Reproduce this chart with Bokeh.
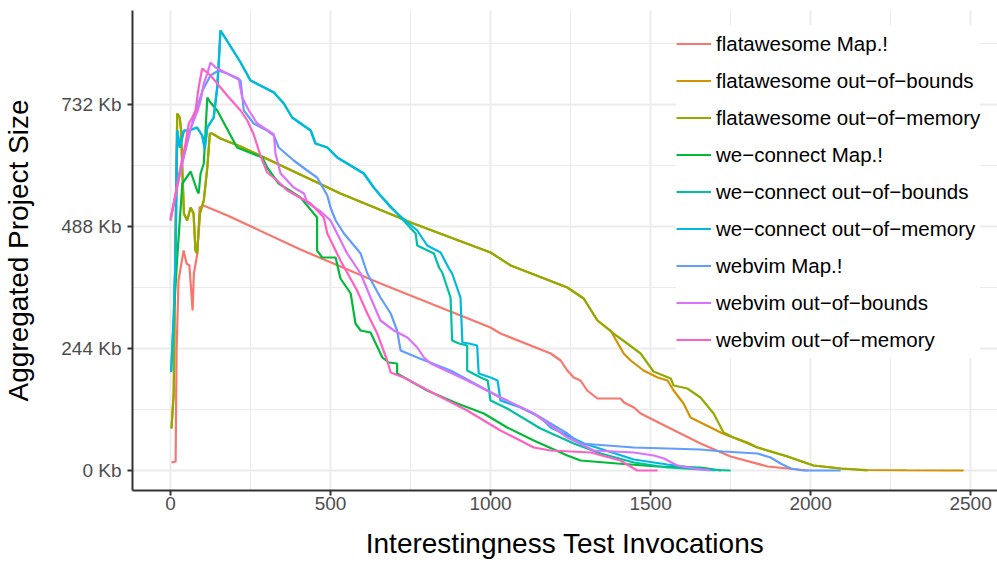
from bokeh.plotting import figure
from bokeh.models import FixedTicker, Range1d
from bokeh.embed import file_html
from bokeh.resources import INLINE

# ---------------- data ----------------
x_ticks = [0, 500, 1000, 1500, 2000, 2500]
x_minor = [250, 750, 1250, 1750, 2250]
y_ticks = [0, 244, 488, 732]
y_minor = [122, 366, 610, 854]
y_tick_labels = ["0 Kb", "244 Kb", "488 Kb", "732 Kb"]
x_title = "Interestingness Test Invocations"
y_title = "Aggregated Project Size"

series_names = [
    "flatawesome Map.!",
    "flatawesome out\u2212of\u2212bounds",
    "flatawesome out\u2212of\u2212memory",
    "we\u2212connect Map.!",
    "we\u2212connect out\u2212of\u2212bounds",
    "we\u2212connect out\u2212of\u2212memory",
    "webvim Map.!",
    "webvim out\u2212of\u2212bounds",
    "webvim out\u2212of\u2212memory",
]
colors = ["#F8766D", "#D39200", "#93AA00", "#00BA38", "#00C19F",
          "#00B9E3", "#619CFF", "#DB72FB", "#FF61C3"]

flat_map_x = [3, 16, 19, 25, 41, 50, 59, 69, 73, 84, 91, 103, 178, 406, 656, 750, 1000, 1031,
              1188, 1219, 1240, 1260, 1281, 1302, 1334, 1406, 1417, 1448, 1469, 1531, 1656,
              1750, 1866, 1991]
flat_map_y = [16, 18, 240, 380, 440, 414, 410, 320, 394, 434, 526, 530, 510, 442, 374, 350, 286, 274,
              234, 220, 200, 186, 180, 160, 144, 144, 136, 126, 114, 94, 54,
              28, 8, 0]

flat_oom_x = [3, 10, 17, 21, 29, 33, 37, 42, 52, 63, 72, 78, 83, 92, 104, 115, 123, 130, 156, 219,
              531, 759, 1000, 1063, 1240, 1291, 1334, 1384, 1427, 1469, 1509, 1563, 1572, 1615,
              1656, 1697, 1728, 1759, 1834, 1928, 2009, 2094, 2178]
flat_oom_y = [84, 154, 540, 714, 706, 680, 600, 514, 500, 526, 514, 440, 434, 514, 540, 606, 674, 674, 664, 648,
              554, 494, 436, 410, 366, 344, 300, 274, 254, 234, 198, 184, 170, 164,
              146, 114, 76, 66, 46, 28, 10, 4, 0]

flat_oob_x = [3, 10, 17, 21, 29, 33, 37, 42, 52, 63, 72, 78, 83, 92, 104, 115, 123, 130, 156, 219,
              531, 759, 1000, 1063, 1240, 1291, 1334, 1375, 1416, 1438, 1478, 1522, 1553, 1572,
              1603, 1625, 1656, 1719, 1741, 1803, 1834, 1928, 2009, 2094, 2178, 2300, 2478]
flat_oob_y = [84, 154, 540, 714, 706, 680, 600, 514, 500, 526, 514, 440, 434, 514, 540, 606, 674, 674, 664, 648,
              554, 494, 436, 410, 366, 344, 300, 280, 234, 220, 200, 186, 180, 160,
              134, 106, 96, 76, 70, 56, 46, 28, 10, 4, 1, 0.5, 0]

wc_map_x = [12, 21, 37, 63, 83, 88, 94, 104, 115, 125, 146, 208, 287, 302, 338, 406, 427, 458, 458,
            474, 516, 531, 563, 578, 594, 625, 662, 682, 708, 708, 802, 896, 979, 1052, 1135, 1240,
            1281, 1396, 1521, 1656, 1720]
wc_map_y = [330, 426, 574, 598, 560, 554, 594, 614, 746, 736, 720, 646, 626, 606, 574, 546, 530, 506, 440,
            426, 426, 384, 354, 294, 280, 276, 226, 216, 214, 194, 160, 134, 114, 86, 60, 30,
            20, 14, 8, 6, 0]

wc_oom_x = [2, 10, 16, 21, 29, 42, 57, 83, 99, 107, 115, 135, 146, 152, 156, 182, 219, 250, 323, 354,
            380, 438, 453, 490, 521, 604, 635, 656, 688, 734, 771, 802, 844, 870, 880, 906, 912,
            932, 958, 963, 1000, 1022, 1031, 1094, 1156, 1188, 1292, 1448, 1552, 1656, 1700]
wc_oom_y = [197, 307, 440, 680, 646, 680, 680, 686, 670, 644, 686, 706, 766, 830, 880, 854, 816, 780, 756, 734,
            706, 680, 654, 646, 626, 594, 566, 550, 526, 500, 480, 450, 436, 404, 394, 346, 256,
            254, 250, 194, 186, 180, 140, 126, 106, 86, 54, 22, 12, 4, 0]

wc_oob_x = [2, 10, 16, 21, 29, 42, 57, 83, 99, 107, 115, 135, 146, 152, 156, 182, 219, 250, 323, 354,
            380, 438, 453, 490, 521, 604, 635, 656, 688, 719, 766, 771, 823, 839, 849, 875, 880,
            901, 927, 927, 969, 991, 1000, 1052, 1156, 1260, 1344, 1448, 1552, 1656, 1750]
wc_oob_y = [197, 307, 440, 680, 646, 680, 680, 686, 670, 644, 686, 706, 766, 830, 880, 854, 816, 780, 756, 734,
            706, 680, 654, 646, 626, 594, 566, 550, 528, 506, 474, 450, 434, 406, 396, 346, 260,
            254, 250, 200, 186, 180, 140, 124, 84, 54, 34, 16, 6, 2, 0]

wv_map_x = [0, 35, 70, 100, 125, 150, 177, 219, 229, 260, 302, 323, 338, 385, 427, 458, 490, 500, 516,
            542, 594, 615, 656, 688, 708, 719, 771, 875, 1031, 1135, 1240, 1281, 1448, 1656, 1728,
            1834, 1875, 1906, 1938, 1978, 2094]
wv_map_y = [504, 610, 700, 760, 790, 800, 794, 780, 720, 694, 680, 670, 646, 620, 600, 586, 550, 526, 500,
            474, 434, 394, 346, 314, 280, 240, 226, 200, 146, 114, 74, 54, 46, 42, 38,
            34, 26, 14, 4, 0, 0]

wv_oob_x = [0, 31, 60, 85, 94, 104, 115, 125, 141, 177, 213, 224, 245, 271, 323, 328, 344, 385, 417, 427,
            469, 500, 552, 594, 625, 656, 698, 740, 771, 792, 813, 927, 1031, 1135, 1240, 1323, 1448,
            1510, 1542, 1583, 1635, 1688]
wv_oob_y = [500, 600, 680, 720, 740, 774, 794, 816, 806, 794, 784, 746, 720, 694, 672, 634, 594, 566, 554, 536,
            518, 500, 434, 394, 346, 300, 280, 266, 246, 226, 214, 180, 146, 114, 66, 40, 36,
            30, 24, 10, 4, 0]

wv_oom_x = [0, 31, 47, 57, 68, 78, 88, 99, 125, 146, 177, 219, 240, 260, 281, 302, 333, 365, 438, 479,
            490, 531, 583, 615, 646, 677, 688, 729, 823, 927, 1031, 1135, 1188, 1313, 1406, 1458, 1522]
wv_oom_y = [500, 606, 654, 694, 706, 720, 766, 804, 790, 774, 750, 720, 700, 672, 630, 596, 580, 560, 534, 506,
            474, 420, 360, 314, 274, 220, 196, 186, 154, 120, 80, 46, 40, 36, 20, 0, 0]

series_x = [flat_map_x, flat_oob_x, flat_oom_x, wc_map_x, wc_oob_x, wc_oom_x, wv_map_x, wv_oob_x, wv_oom_x]
series_y = [flat_map_y, flat_oob_y, flat_oom_y, wc_map_y, wc_oob_y, wc_oom_y, wv_map_y, wv_oob_y, wv_oom_y]

# ---------------- figure ----------------
FONT = "Liberation Sans"
p = figure(frame_width=865, frame_height=480, output_backend="svg", toolbar_location=None,
           x_range=Range1d(-118.75, 2584), y_range=Range1d(-40, 920),
           min_border=0,
           min_border_left=132, min_border_right=0, min_border_top=10, min_border_bottom=74)
p.outline_line_color = None
p.background_fill_color = "white"
p.border_fill_color = "white"

for xs, ys, c, name in zip(series_x, series_y, colors, series_names):
    p.line(xs, ys, line_color=c, line_width=2.2, legend_label=name)

p.xaxis.ticker = FixedTicker(ticks=x_ticks, minor_ticks=x_minor)
p.yaxis.ticker = FixedTicker(ticks=y_ticks, minor_ticks=y_minor)
p.yaxis.major_label_overrides = {t: lab for t, lab in zip(y_ticks, y_tick_labels)}

for ax in (p.xaxis, p.yaxis):
    ax.axis_line_color = "#333333"
    ax.axis_line_width = 2
    ax.major_tick_line_color = "#333333"
    ax.major_tick_line_width = 2
    ax.major_tick_out = 5
    ax.major_tick_in = 0
    ax.minor_tick_line_color = None
    ax.major_label_text_font = FONT
    ax.major_label_text_font_size = "19px"
    ax.major_label_text_color = "#4D4D4D"
    ax.axis_label_text_font = FONT
    ax.axis_label_text_font_size = "28px"
    ax.axis_label_text_font_style = "normal"
    ax.axis_label_text_color = "black"

p.xaxis.axis_label = x_title
p.yaxis.axis_label = y_title
p.xaxis.major_label_standoff = 1
p.yaxis.major_label_standoff = 6
p.xaxis.axis_label_standoff = 15
p.yaxis.axis_label_standoff = 24

for g in (p.xgrid, p.ygrid):
    g.grid_line_color = "#EBEBEB"
    g.grid_line_width = 1.8
    g.minor_grid_line_color = "#EBEBEB"
    g.minor_grid_line_width = 1.0

lg = p.legend[0]
lg.location = (544, 132)
lg.margin = 0
lg.padding = 14
lg.spacing = 0
lg.label_height = 37
lg.glyph_height = 37
lg.glyph_width = 35
lg.label_standoff = 5
lg.label_text_font = FONT
lg.label_text_font_size = "20.5px"
lg.label_text_color = "black"
lg.border_line_color = None
lg.background_fill_color = "white"
lg.background_fill_alpha = 1.0

open("out.html", "w").write(file_html(p, INLINE))
